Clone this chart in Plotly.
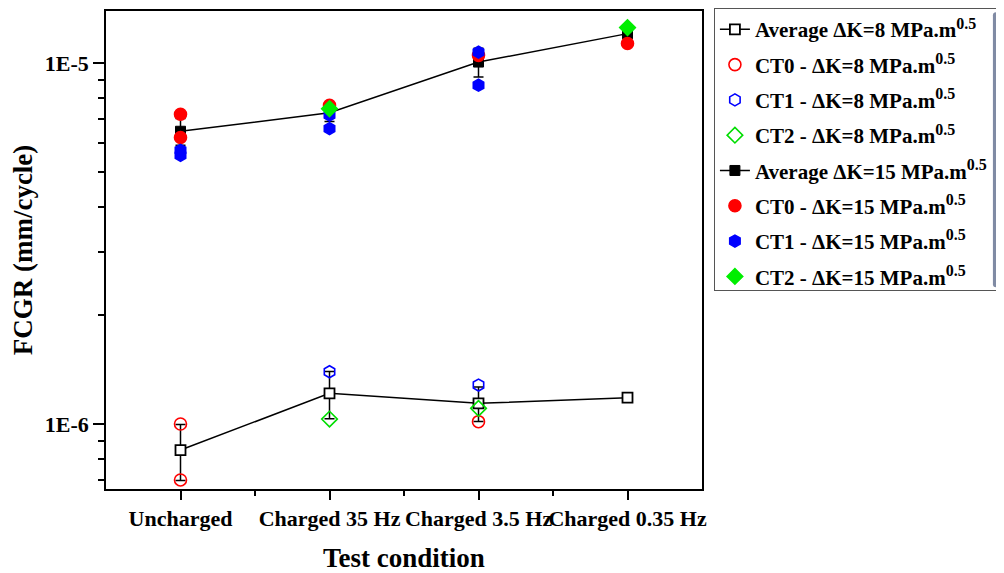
import plotly.graph_objects as go

# ---------------- data ----------------
categories = ["Uncharged", "Charged 35 Hz", "Charged 3.5 Hz", "Charged 0.35 Hz"]
cat_pos = [1, 2, 3, 4]

avg8 = [8.47e-7, 1.216e-6, 1.141e-6, 1.183e-6]
err8 = [1.5e-7, 1.82e-7, 1.25e-7, 0]
ct0_8_x = [1, 1, 3]
ct0_8_y = [1.0e-6, 7.0e-7, 1.015e-6]
ct1_8_x = [2, 3]
ct1_8_y = [1.396e-6, 1.282e-6]
ct2_8_x = [2, 3]
ct2_8_y = [1.032e-6, 1.105e-6]

avg15 = [6.47e-6, 7.28e-6, 1.006e-5, 1.206e-5]
err15 = [5.5e-7, 4.0e-7, 9.2e-7, 3.8e-7]
ct0_15_x = [1, 1, 2, 3, 4]
ct0_15_y = [7.21e-6, 6.22e-6, 7.64e-6, 1.05e-5, 1.132e-5]
ct1_15_x = [1, 1, 2, 2, 3, 3]
ct1_15_y = [5.73e-6, 5.55e-6, 7.17e-6, 6.58e-6, 1.072e-5, 8.68e-6]
ct2_15_x = [2, 4]
ct2_15_y = [7.47e-6, 1.253e-5]

y_major = [1e-6, 1e-5]
y_major_text = ["1E-6", "1E-5"]
y_minor_mult = [2, 3, 4, 5, 6, 7, 8, 9]
y_minor_decades = [1e-7, 1e-6, 1e-5]

SUP = "MPa.m<sup><span style='font-size:16px'>0.5</span></sup>"
FONT = "Liberation Serif"

fig = go.Figure()
group_counter = [0]

def next_group():
    group_counter[0] += 1
    return "g%d" % group_counter[0]

def scatter(x, y, name, symbol, color, fill, size=12):
    fig.add_trace(go.Scatter(
        x=x, y=y, mode="markers", name=name, legendgroup=next_group(),
        marker=dict(symbol=symbol, size=size,
                    color=color if fill else "rgba(0,0,0,0)",
                    line=dict(color=color, width=1.6)),
    ))

# Average dK=8
fig.add_trace(go.Scatter(
    x=cat_pos, y=avg8, mode="lines+markers",
    name="Average \u0394K=8 " + SUP, legendgroup=next_group(),
    line=dict(color="black", width=1.5),
    marker=dict(symbol="square", size=10, color="white",
                line=dict(color="black", width=1.8)),
    error_y=dict(type="data", array=err8, color="black", thickness=1.5, width=5),
))
scatter(ct0_8_x, ct0_8_y, "CT0 - \u0394K=8 " + SUP, "circle", "#ff0000", False)
scatter(ct1_8_x, ct1_8_y, "CT1 - \u0394K=8 " + SUP, "hexagon", "#0000ff", False)
scatter(ct2_8_x, ct2_8_y, "CT2 - \u0394K=8 " + SUP, "diamond", "#00dd00", False)

# Average dK=15
fig.add_trace(go.Scatter(
    x=cat_pos, y=avg15, mode="lines+markers",
    name="Average \u0394K=15 " + SUP, legendgroup=next_group(),
    line=dict(color="black", width=1.5),
    marker=dict(symbol="square", size=10, color="black",
                line=dict(color="black", width=1)),
    error_y=dict(type="data", array=err15, color="black", thickness=1.5, width=5),
))
scatter(ct0_15_x, ct0_15_y, "CT0 - \u0394K=15 " + SUP, "circle", "#ff0000", True)
scatter(ct1_15_x, ct1_15_y, "CT1 - \u0394K=15 " + SUP, "hexagon", "#0000ff", True)
scatter(ct2_15_x, ct2_15_y, "CT2 - \u0394K=15 " + SUP, "diamond", "#00ee00", True)

minor_vals = [d * m for d in y_minor_decades for m in y_minor_mult]

fig.update_layout(
    width=996, height=565,
    paper_bgcolor="white", plot_bgcolor="white",
    margin=dict(l=98, r=302, t=3, b=84, autoexpand=False),
    font=dict(family=FONT, color="black", size=21, weight="bold"),
    showlegend=True,
    legend=dict(
        x=1.02, y=1.006, xanchor="left", yanchor="top",
        bordercolor="#555555", borderwidth=1, bgcolor="white",
        font=dict(family=FONT, size=21, color="black", weight="bold"),
        traceorder="grouped",
        tracegroupgap=5,
    ),
    xaxis=dict(
        range=[0.5, 4.5], automargin=False,
        tickmode="array", tickvals=cat_pos, ticktext=categories,
        tickangle=0,
        ticks="outside", ticklen=9, tickwidth=1.5, tickcolor="black",
        showline=True, linecolor="black", linewidth=1.5, mirror=True,
        showgrid=False, zeroline=False,
        tickfont=dict(family=FONT, size=22, weight="bold"),
        minor=dict(tickmode="array", tickvals=[1.5, 2.5, 3.5],
                   ticks="outside", ticklen=5, tickwidth=1.5,
                   tickcolor="black", showgrid=False),
        title=dict(text="Test condition", standoff=18,
                   font=dict(family=FONT, size=27, weight="bold")),
    ),
    yaxis=dict(
        type="log", automargin=False,
        range=[-6.18, -4.856],
        tickmode="array", tickvals=y_major, ticktext=y_major_text,
        ticks="outside", ticklen=11, tickwidth=1.5, tickcolor="black",
        showline=True, linecolor="black", linewidth=1.5, mirror=True,
        showgrid=False, zeroline=False,
        tickfont=dict(family=FONT, size=22, weight="bold"),
        minor=dict(tickmode="array", tickvals=minor_vals,
                   ticks="outside", ticklen=6, tickwidth=1.5,
                   tickcolor="black", showgrid=False),
        title=dict(text="FCGR (mm/cycle)", standoff=8,
                   font=dict(family=FONT, size=27, weight="bold")),
    ),
)

fig.write_html("out.html")
